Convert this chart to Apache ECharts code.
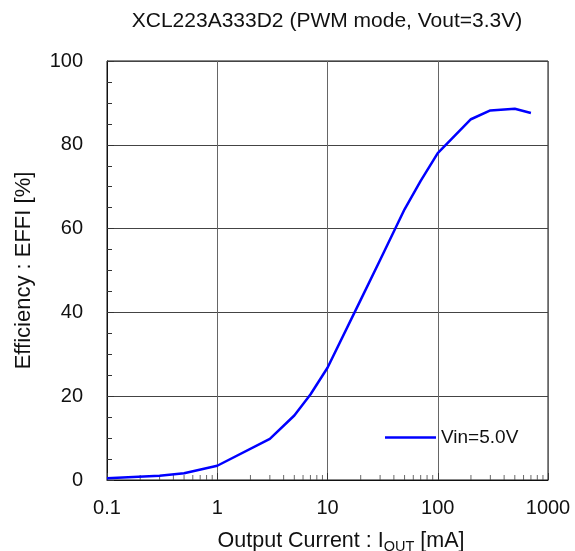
<!DOCTYPE html>
<html>
<head>
<meta charset="utf-8">
<script src="https://cdn.jsdelivr.net/npm/echarts@6/dist/echarts.min.js"></script>
<style>html,body{margin:0;padding:0;background:#fff}#c{width:575px;height:551px}</style>
</head>
<body>
<div id="c"></div>
<script>
const titleText = 'XCL223A333D2 (PWM mode, Vout=3.3V)';
const seriesName = 'Vin=5.0V';
const currentMA = [0.1, 0.3, 0.5, 1, 3, 5, 7, 10, 20, 30, 50, 70, 100, 200, 300, 500, 700];
const efficiency = [0.4, 1.0, 1.6, 3.4, 9.8, 15.4, 20.4, 26.8, 43, 52.5, 64.6, 71.4, 78, 86.1, 88.2, 88.6, 87.6];
const xMinorTicks = [0.2,0.3,0.4,0.5,0.6,0.7,0.8,0.9, 2,3,4,5,6,7,8,9, 20,30,40,50,60,70,80,90, 200,300,400,500,600,700,800,900];
const xTickLabels = {0.1:'0.1', 1:'1', 10:'10', 100:'100', 1000:'1000'};

const font = 'Liberation Sans, Arial, sans-serif';
const chart = echarts.init(document.getElementById('c'));
chart.setOption({
  animation: false,
  backgroundColor: '#fff',
  title: {
    text: titleText, left: 322, top: 6, textAlign: 'center',
    textStyle: {fontFamily: font, fontSize: 21, fontWeight: 'normal', color: '#111'}
  },
  legend: {
    data: [{name: seriesName, icon: 'rect'}], left: 385, top: 428, padding: 0,
    itemWidth: 51, itemHeight: 2.5, itemGap: 3,
    textStyle: {fontFamily: font, fontSize: 19, color: '#111'}
  },
  grid: {left: 107, right: 27, top: 61, bottom: 71, show: true, borderColor: '#111', borderWidth: 1, outerBoundsMode: 'none'},
  xAxis: {
    type: 'log', logBase: 10, min: 0.1, max: 1000,
    name: 'Output Current : I{s|OUT} [mA]', nameLocation: 'middle', nameGap: 49,
    nameTextStyle: {fontFamily: font, fontSize: 21.5, color: '#111', padding: [0, 0, 0, 27],
      rich: {s: {fontFamily: font, fontSize: 14.5, color: '#111', verticalAlign: 'bottom', padding: [10, 0, 0, 0]}}},
    axisLine: {show: true, lineStyle: {color: '#111', width: 1}},
    axisTick: {show: true, inside: true, length: 7, lineStyle: {color: '#333'}},
    axisLabel: {fontFamily: font, fontSize: 20, color: '#111', margin: 18,
      formatter: v => xTickLabels[+(+v).toPrecision(3)] ?? String(v)},
    splitLine: {show: true, lineStyle: {color: '#666', width: 1}}
  },
  yAxis: {
    type: 'value', min: 0, max: 100, interval: 20,
    name: 'Efficiency : EFFI [%]', nameLocation: 'middle', nameGap: 72, nameRotate: 90,
    nameTextStyle: {fontFamily: font, fontSize: 22, color: '#111'},
    axisLine: {show: true, lineStyle: {color: '#111', width: 1}},
    axisTick: {show: true, inside: true, length: 7, lineStyle: {color: '#333'}},
    minorTick: {show: true, splitNumber: 4, length: 5, lineStyle: {color: '#333'}},
    axisLabel: {fontFamily: font, fontSize: 20, color: '#111', margin: 24},
    splitLine: {show: true, lineStyle: {color: '#444', width: 1}}
  },
  series: [
    {
      name: seriesName, type: 'line', symbol: 'none', showSymbol: false,
      lineStyle: {color: '#0000ff', width: 2.5}, itemStyle: {color: '#0000ff'},
      data: currentMA.map((x, i) => [x, efficiency[i]]), z: 5
    },
    {
      name: 'minorTicks', type: 'scatter', silent: true, clip: false,
      symbol: 'rect', symbolSize: [1, 5], symbolOffset: [0, -2.5],
      itemStyle: {color: '#444'},
      data: xMinorTicks.map(x => [x, 0]), z: 3
    }
  ]
});
</script>
</body>
</html>
